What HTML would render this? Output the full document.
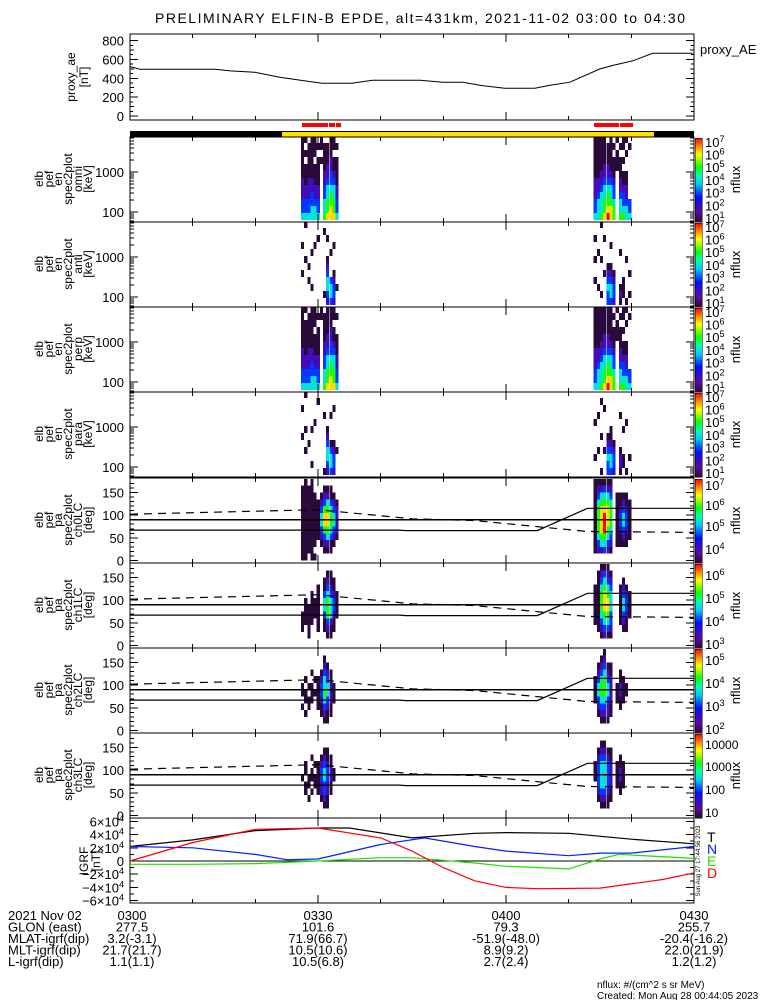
<!DOCTYPE html>
<html><head><meta charset="utf-8"><style>
html,body{margin:0;padding:0;background:#fff}
svg{display:block;font-family:"Liberation Sans",sans-serif}
</style></head><body>
<svg id="s" xmlns="http://www.w3.org/2000/svg" width="775" height="1000" viewBox="0 0 775 1000" shape-rendering="crispEdges">
<defs>
<linearGradient id="cmap" x1="0" y1="1" x2="0" y2="0">
<stop offset="0" stop-color="#2a0a3a"/><stop offset="0.12" stop-color="#5a0aa0"/><stop offset="0.3" stop-color="#0010ff"/><stop offset="0.45" stop-color="#00c8ff"/><stop offset="0.55" stop-color="#00ffb4"/><stop offset="0.66" stop-color="#10ff00"/><stop offset="0.8" stop-color="#ffff00"/><stop offset="0.9" stop-color="#ff8c00"/><stop offset="1" stop-color="#ff0000"/>
</linearGradient>
</defs>
<text x="420" y="23" text-anchor="middle" font-size="14" textLength="530">PRELIMINARY ELFIN-B EPDE, alt=431km, 2021-11-02 03:00 to 04:30</text>
</svg>
<script>
// ---------- data ----------
const aeMin = [0,1.6,13.6,16.0,19.9,23.9,27.9,30.7,35.4,38.7,46.3,49.9,53.1,56.2,59.8,64.6,67.0,70.2,75.0,77.4,80.2,83.4,89.8];
const aeVal = [524,496,496,478,464,411,372,347,347,379,379,358,358,322,294,294,326,358,499,542,584,665,665];
const timeTicks = ['0300','0330','0400','0430'];
const glon = ['277.5','101.6','79.3','255.7'];
const mlat = ['3.2(-3.1)','71.9(66.7)','-51.9(-48.0)','-20.4(-16.2)'];
const mlt = ['21.7(21.7)','10.5(10.6)','8.9(9.2)','22.0(21.9)'];
const lval = ['1.1(1.1)','10.5(6.8)','2.7(2.4)','1.2(1.2)'];
const burstStart = [27.3, 74];
const colDt = 0.5;
const omni1 = ["433222111111","433221110101","433222111110","443322111111","443221110111","433221111010","000000001011","544332211110","655443221110","665543322111","655443211011","433221111010"];
const omni2 = ["433222111111","444322111111","544432211111","655443221111","765543221110","665443211111","554332111010","000000011101","544322111010","543321101011","443221100101","433000000010"];
const anti1 = ["000010001000","000000100001","000101000000","001000010000","000000001000","000000000100","000000000000","010000000010","234432100100","344300010000","233210001000","001000000000"];
const anti2 = ["000100100100","001000010000","010000100001","000010000100","334321000000","344321001000","233210000000","000000000000","121000010000","011100000000","100000100000","010010000000"];
const perp1 = ["433222111111","433221111101","433222111110","443322111111","443221110111","433221111010","000000000011","544332211110","655443221111","665543322111","655443211011","433221110010"];
const perp2 = ["433222111111","444322111111","544432211111","655443221111","765543221111","665443211111","554332111010","000000011101","544322111010","543321101011","443221100101","433000000010"];
const para1 = ["000001000100","000100100001","000010000000","010000100000","000000010000","000000000010","000000000000","100000001000","234432100000","344310001000","233210000100","000100000000"];
const para2 = ["001000010000","000100001000","100001000010","000100000100","334321000000","344321100000","233210000000","000000000000","122100001000","011000100000","100000010000","001000000000"];
const ch0_1 = ["111111111110","111111111111","011111111110","111111111111","101111111100","000111111000","001234432100","012356653210","012456654210","011345543110","001234432100","000122221000"];
const ch0_2 = ["011111111111","023455554321","024566665421","034577765431","023456665421","012345554321","000000000000","001111111100","001123321100","001234432100","001123321100","000111111000"];
const ch1_1 = ["001110000000","000111100000","011111000000","000111110000","000011100000","001111111000","000000000000","001134431100","012355543210","011244432110","001123321100","000011110000"];
const ch1_2 = ["000111111000","001111111110","012345554321","023456665431","013456654321","012334443210","000000000000","000000000000","000111111000","001234432100","001123321000","000011110000"];
const ch2_1 = ["000101100000","001011010000","000110100000","000011101000","000001010000","000111110000","001123321000","012345443210","011234432100","001122211000","000011100000","000000000000"];
const ch2_2 = ["000011110000","001234432100","012345543210","012345554321","012234432100","001122221100","000000000000","000011100000","000112211000","000011110000","000001100000","000000000000"];
const ch3_1 = ["000001000000","000110110000","001011000000","000101101000","000011010000","000111110000","001223321000","012334432100","011223321100","000112211000","000001100000","000000000000"];
const ch3_2 = ["000001110000","001233332100","012344443210","012344443210","011233332100","001122221100","000000000000","000011110000","000112211000","000011110000","000000000000","000000000000"];
const lcMin = [0,43,44,65,73,90];
const lcDeg = [67,67,66,66,115,115];
const aLcMin = [0,30,45,55,73,90];
const aLcDeg = [102,112,92,88,64,62];
const igMin = [0,10,20,30,35,45,55,60,70,80,90];
const igT = [2.2,3.2,4.6,5,5,3.5,4.2,4.3,4.2,3.3,2.6];
const nMin = [0,10,20,25,30,40,47,55,60,70,75,80,90];
const igN = [2.2,2.0,1.0,0.2,0.3,2.5,3.5,2.2,1.5,0.8,1.2,1.2,2.2];
const eMin = [0,10,20,30,40,45,55,60,70,75,78,90];
const igE = [-0.5,-0.5,-0.4,0,0.5,0.5,-0.3,-0.8,-1.2,0.3,1.0,0.4];
const dMin = [0,10,20,30,40,45,50,55,60,65,75,85,90];
const igD = [0,2.8,4.8,5,3.5,1.5,-1.0,-3,-4,-4.2,-4.1,-2.8,-1.8];

// ---------- helpers ----------
const S = document.getElementById('s');
const NS = 'http://www.w3.org/2000/svg';
const X0 = 130, X1 = 694;
function xOf(m){ return X0 + m*(X1-X0)/90; }
function mk(tag, attrs, parent){ const e=document.createElementNS(NS,tag); for(const k in attrs) e.setAttribute(k,attrs[k]); (parent||S).appendChild(e); return e; }
function txt(x,y,s,size,anchor,fill,parent){ const t=mk('text',{x:x,y:y,'font-size':size||13,'text-anchor':anchor||'start',fill:fill||'#000'},parent); t.textContent=s; return t; }
function sup(x,y,base,exp,size,anchor,parent){ const t=mk('text',{x:x,y:y,'font-size':size||13,'text-anchor':anchor||'start'},parent); t.appendChild(document.createTextNode(base)); const ts=mk('tspan',{dy:-5,'font-size':(size||13)*0.7},t); ts.textContent=exp; return t; }
const stops=[[0,[42,10,58]],[0.12,[90,10,160]],[0.3,[0,16,255]],[0.45,[0,200,255]],[0.55,[0,255,180]],[0.66,[16,255,0]],[0.8,[255,255,0]],[0.9,[255,140,0]],[1,[255,0,0]]];
function cmap(t){ for(let i=1;i<stops.length;i++){ if(t<=stops[i][0]){ const a=stops[i-1],b=stops[i]; const f=(t-a[0])/(b[0]-a[0]); const c=a[1].map((v,j)=>Math.round(v+(b[1][j]-v)*f)); return 'rgb('+c.join(',')+')'; } } return 'rgb(255,0,0)'; }
function xTicks(top,bot,g){ for(let m=0;m<=90;m+=10){ const L=(m%30===0)?8:4; const x=xOf(m); mk('line',{x1:x,x2:x,y1:bot,y2:bot-L,stroke:'#000'},g); mk('line',{x1:x,x2:x,y1:top,y2:top+L,stroke:'#000'},g); } }
function frame(top,bot,g){ mk('rect',{x:X0,y:top,width:X1-X0,height:bot-top,fill:'none',stroke:'#000','stroke-width':1.2},g); }
function yTick(y,L,g){ mk('line',{x1:X0,x2:X0+L,y1:y,y2:y,stroke:'#000'},g); mk('line',{x1:X1,x2:X1-L,y1:y,y2:y,stroke:'#000'},g); }
function ylabel(lines,cy,g,xs){ lines.forEach((s,i)=>{ const x=xs[i]; const t=txt(x,cy,s,12,'middle','#000',g); t.setAttribute('transform','rotate(-90 '+x+' '+cy+')'); }); }
function poly(ms,vs,fx,fy,attrs,g){ const p=ms.map((m,i)=>fx(m).toFixed(1)+','+fy(vs[i]).toFixed(1)).join(' '); const a=Object.assign({points:p,fill:'none','shape-rendering':'auto'},attrs); return mk('polyline',a,g); }
function colorbar(top,bot,labels,g){
  const r=mk('rect',{x:695,y:top+1,width:7,height:bot-top-1,fill:'url(#cmap)',stroke:'#000','stroke-width':0.5},g);
  
  
  labels.forEach(l=>{ if(l.e!==undefined) sup(705,l.y+5,l.b,l.e,13,'start',g); else txt(705,l.y+5,l.b,12,'start','#000',g); });
  const cy=(top+bot)/2; const t=txt(740,cy,'nflux',13,'middle','#000',g); t.setAttribute('transform','rotate(-90 740 '+cy+')');
}

// ---------- proxy AE panel ----------
(function(){
  const g=mk('g',{});  
  const top=34,bot=120; const y=v=>116-v*0.0943;
  frame(top,bot,g); xTicks(top,bot,g);
  [0,200,400,600,800].forEach(v=>{ yTick(y(v),8,g); txt(124,y(v)+5,String(v),13,'end','#000',g); });
  for(let v=100;v<800;v+=200) yTick(y(v),4,g);
  for(let v=50;v<800;v+=50) if(v%100) yTick(y(v),3,g);
  const l=poly(aeMin,aeVal,xOf,y,{stroke:'#000','stroke-width':1},g);
   
  ylabel(['proxy_ae','[nT]'],77,g,[75,88]);
  txt(700,54,'proxy_AE',13,'start','#000',g);
})();

// ---------- orbit bars ----------
(function(){
  const g=mk('g',{});  
  mk('rect',{x:X0,y:131,width:X1-X0,height:6,fill:'#000'},g);
  mk('rect',{x:282,y:132,width:372,height:5,fill:'#ffe000'},g);
  [[302,328],[329,335],[336,341],[594,619],[620,633]].forEach(s=>mk('rect',{x:s[0],y:123,width:s[1]-s[0],height:4,fill:'#ff0000'},g));
})();

// ---------- energy spectrograms ----------
const specPanels=[{top:137,name:'omni',d:[omni1,omni2]},{top:222,name:'anti',d:[anti1,anti2]},{top:307,name:'perp',d:[perp1,perp2]},{top:392,name:'para',d:[para1,para2]}];
specPanels.forEach(p=>{
  const g=mk('g',{});  
  const top=p.top, bot=top+85;
  const yE=le=>top+75-(le-2)*40;
  const lo=1.8, st=(3.9-1.8)/12;
  p.d.forEach((burst,bi)=>{ burst.forEach((col,ci)=>{ const xa=xOf(burstStart[bi]+ci*colDt), xb=xOf(burstStart[bi]+(ci+1)*colDt);
    for(let k=0;k<col.length;k++){ const dv=+col[k]; if(!dv) continue; const ya=Math.max(top,yE(lo+(k+1)*st)), yb=Math.min(bot,yE(lo+k*st));
      const r=mk('rect',{x:xa.toFixed(1),y:ya.toFixed(1),width:(xb-xa).toFixed(1),height:(yb-ya).toFixed(1),fill:cmap((dv-1)/6)},g);
        } }); });
  frame(top,bot,g); xTicks(top,bot,g);
  [100,1000].forEach(v=>{ yTick(yE(Math.log10(v)),8,g); txt(124,yE(Math.log10(v))+5,String(v),13,'end','#000',g); });
  [60,70,80,90,200,300,400,500,600,700,800,900,2000,3000,4000,5000,6000,7000].forEach(v=>{ const yy=yE(Math.log10(v)); if(yy>top&&yy<bot) yTick(yy,4,g); });
  ylabel(['elb','pef','en','spec2plot',p.name,'[keV]'],top+42,g,[43,53,62,72,82,92]);
  const labs=[]; for(let e=1;e<=7;e++) labs.push({b:'10',e:String(e),y:bot-4-(e-1)*12.7});
  colorbar(top,bot,labs,g);
});

// ---------- pitch angle spectrograms ----------
const paPanels=[{top:478,name:'ch0LC',d:[ch0_1,ch0_2],lab:[{b:'10',e:'7',y:485},{b:'10',e:'6',y:505},{b:'10',e:'5',y:526},{b:'10',e:'4',y:549}]},
 {top:563,name:'ch1LC',d:[ch1_1,ch1_2],lab:[{b:'10',e:'6',y:575},{b:'10',e:'5',y:598},{b:'10',e:'4',y:621},{b:'10',e:'3',y:644}]},
 {top:648,name:'ch2LC',d:[ch2_1,ch2_2],lab:[{b:'10',e:'5',y:660},{b:'10',e:'4',y:683},{b:'10',e:'3',y:706},{b:'10',e:'2',y:729}]},
 {top:733,name:'ch3LC',d:[ch3_1,ch3_2],lab:[{b:'10000',y:744},{b:'1000',y:766},{b:'100',y:789},{b:'10',y:812}]}];
paPanels.forEach(p=>{
  const g=mk('g',{});  
  const top=p.top, bot=top+85; const yP=d=>top+82.5-d*0.4535;
  p.d.forEach((burst,bi)=>{ burst.forEach((col,ci)=>{ const xa=xOf(burstStart[bi]+ci*colDt), xb=xOf(burstStart[bi]+(ci+1)*colDt);
    for(let k=0;k<col.length;k++){ const dv=+col[k]; if(!dv) continue; const ya=yP((k+1)*15), yb=yP(k*15);
      const r=mk('rect',{x:xa.toFixed(1),y:ya.toFixed(1),width:(xb-xa).toFixed(1),height:(yb-ya).toFixed(1),fill:cmap((dv-1)/6)},g);
        } }); });
  mk('line',{x1:X0,x2:X1,y1:yP(90),y2:yP(90),stroke:'#000','stroke-width':1.2},g);
  const lc=poly(lcMin,lcDeg,xOf,yP,{stroke:'#000','stroke-width':1.2},g);
   
  const alc=poly(aLcMin,aLcDeg,xOf,yP,{stroke:'#000','stroke-width':1.2,'stroke-dasharray':'8,6'},g);
   
  frame(top,bot,g); xTicks(top,bot,g);
  [0,50,100,150].forEach(v=>{ yTick(yP(v),8,g); txt(124,yP(v)+5,String(v),13,'end','#000',g); });
  for(let v=10;v<180;v+=10) if(v%50) yTick(yP(v),4,g);
  ylabel(['elb','pef','pa','spec2plot',p.name,'[deg]'],top+42,g,[43,53,62,72,82,92]);
  colorbar(top,bot,p.lab,g);
});

// ---------- IGRF panel ----------
(function(){
  const g=mk('g',{});  
  const top=818,bot=903; const y=v=>861-v*6.6;
  frame(top,bot,g); xTicks(top,bot,g);
  mk('line',{x1:X0,x2:X1,y1:y(0),y2:y(0),stroke:'#000','stroke-width':1.2},g);
  [-6,-4,-2,0,2,4,6].forEach(v=>{ yTick(y(v),8,g); if(v===0) txt(124,y(v)+5,'0',13,'end','#000',g); else sup(124,y(v)+5,(v<0?'\u2212':'')+Math.abs(v)+'\u00d710','4',13,'end',g); });
  for(let v=-5;v<=5;v+=2) yTick(y(v),4,g);
  [[igMin,igT,'#000','igrf-t-line'],[nMin,igN,'#0020ff','igrf-n-line'],[eMin,igE,'#20e000','igrf-e-line'],[dMin,igD,'#ff0000','igrf-d-line']].forEach(s=>{
    const l=poly(s[0],s[1],xOf,y,{stroke:s[2],'stroke-width':1.2},g);
      });
  ylabel(['IGRF','[nT]'],861,g,[88,100]);
  txt(707,842,'T',14,'start','#000',g); txt(707,854,'N',14,'start','#0020ff',g); txt(707,866,'E',14,'start','#20e000',g); txt(707,878,'D',14,'start','#ff0000',g);
  const st=txt(700,861,'Sun Aug 27 17:44:56 2023',6,'middle','#000',g); st.setAttribute('transform','rotate(-90 700 861)');
})();

// ---------- bottom annotation ----------
(function(){
  const g=mk('g',{'font-size':13});  
  const rows=[['2021 Nov 02',timeTicks],['GLON (east)',glon],['MLAT-igrf(dip)',mlat],['MLT-igrf(dip)',mlt],['L-igrf(dip)',lval]];
  rows.forEach((r,i)=>{ const yy=920+i*11.5; txt(8,yy,r[0],13,'start','#000',g);
    r[1].forEach((v,j)=>{ txt(xOf(j*30)+(j===0?2:0),yy,v,13,'middle','#000',g); }); });
  txt(597,988,'nflux: #/(cm^2 s sr MeV)',10,'start','#000',g);
  txt(597,999,'Created: Mon Aug 28 00:44:05 2023',10,'start','#000',g);
})();
</script>
</body></html>
